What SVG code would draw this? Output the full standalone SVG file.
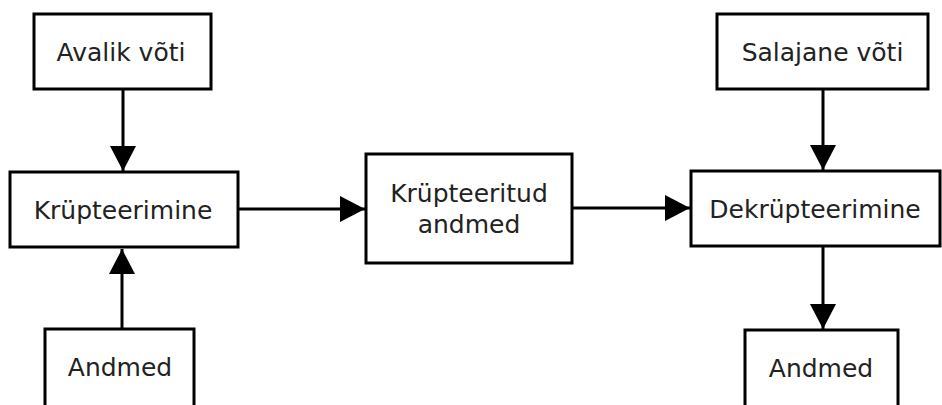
<svg xmlns="http://www.w3.org/2000/svg" width="942" height="405" viewBox="0 0 942 405">
<defs>
<style>
.box{fill:#fff;stroke:#000;stroke-width:3}
.lbl{font-family:"DejaVu Sans",sans-serif;font-size:25px;fill:#222;text-anchor:middle;dominant-baseline:central}
.edge{stroke:#000;stroke-width:3;fill:none}
</style>
<marker id="ah" markerUnits="userSpaceOnUse" markerWidth="26" markerHeight="28" refX="25" refY="13" orient="auto">
<path d="M0,0 L25,13 L0,26 Z" fill="#000"/>
</marker>
</defs>
<rect width="942" height="405" fill="#fff"/>
<g id="connectors">
<line class="edge" x1="123" y1="89" x2="123" y2="171" marker-end="url(#ah)"/>
<line class="edge" x1="122" y1="329" x2="122" y2="249" marker-end="url(#ah)"/>
<line class="edge" x1="238" y1="209" x2="365" y2="209" marker-end="url(#ah)"/>
<line class="edge" x1="572" y1="208" x2="690" y2="208" marker-end="url(#ah)"/>
<line class="edge" x1="823" y1="89" x2="823" y2="170" marker-end="url(#ah)"/>
<line class="edge" x1="823" y1="247" x2="823" y2="329" marker-end="url(#ah)"/>
</g>
<g id="avalik">
<rect class="box" x="34" y="14" width="177" height="75"/>
<text class="lbl" x="121" y="52">Avalik võti</text>
</g>
<g id="krypt">
<rect class="box" x="10" y="172" width="228" height="75"/>
<text class="lbl" x="123" y="210">Krüpteerimine</text>
</g>
<g id="andmed1">
<rect class="box" x="45" y="329" width="149" height="90"/>
<text class="lbl" x="120" y="367">Andmed</text>
</g>
<g id="kryptand">
<rect class="box" x="366" y="154" width="206" height="109"/>
<text class="lbl" x="469" y="193">Krüpteeritud</text>
<text class="lbl" x="469" y="224">andmed</text>
</g>
<g id="salajane">
<rect class="box" x="717" y="14" width="211" height="75"/>
<text class="lbl" x="822.5" y="52">Salajane võti</text>
</g>
<g id="dekrypt">
<rect class="box" x="691" y="171" width="249" height="75"/>
<text class="lbl" x="815" y="209">Dekrüpteerimine</text>
</g>
<g id="andmed2">
<rect class="box" x="745" y="330" width="153" height="90"/>
<text class="lbl" x="821" y="368">Andmed</text>
</g>
</svg>
